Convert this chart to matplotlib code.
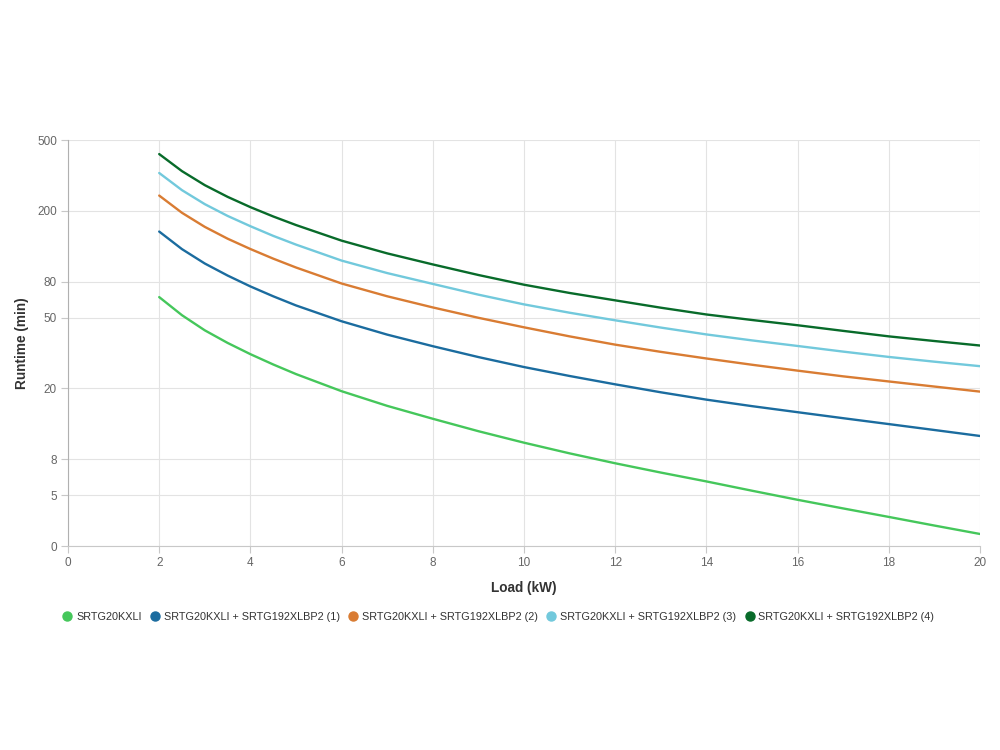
import matplotlib
matplotlib.use("Agg")
import matplotlib.pyplot as plt
from matplotlib.lines import Line2D

plt.rcParams['font.family'] = ['Liberation Sans', 'DejaVu Sans']

load_kw = [2, 2.5, 3, 3.5, 4, 4.5, 5, 6, 7, 8, 9, 10, 11, 12, 13, 14, 15, 16, 17, 18, 19, 20]
series_names = [
    "SRTG20KXLI",
    "SRTG20KXLI + SRTG192XLBP2 (1)",
    "SRTG20KXLI + SRTG192XLBP2 (2)",
    "SRTG20KXLI + SRTG192XLBP2 (3)",
    "SRTG20KXLI + SRTG192XLBP2 (4)",
]
runtime_0 = [65.4, 51.7, 42.5, 36.1, 31.2, 27.3, 24.1, 19.3, 15.96, 13.5, 11.49, 9.9, 8.62,
             7.58, 6.72, 5.99, 5.31, 4.72, 4.22, 3.78, 3.38, 3.03]
runtime_1 = [153, 121.8, 101.1, 86.5, 75.1, 66.1, 58.7, 47.8, 40.2, 34.6, 30.05, 26.4, 23.51,
             21.1, 19.03, 17.3, 15.9, 14.7, 13.6, 12.6, 11.67, 10.8]
runtime_2 = [244, 195.1, 162.6, 139.5, 122, 107.7, 96.0, 78, 66.1, 57.2, 50.0, 44.2, 39.3,
             35.3, 32.15, 29.5, 27.2, 25.2, 23.4, 21.9, 20.5, 19.2]
runtime_3 = [327, 261.7, 218.3, 187.4, 164, 144.7, 129.2, 105, 89.3, 77.6, 67.5, 59.5, 53.4,
             48.4, 44.05, 40.3, 37.3, 34.7, 32.25, 30.1, 28.3, 26.7]
runtime_4 = [418, 334.9, 279.3, 240.0, 210, 186.1, 166.5, 136, 115.3, 99.9, 87.1, 76.8, 69.0,
             62.7, 57.0, 52.2, 48.6, 45.4, 42.2, 39.3, 37.0, 34.9]
colors = ["#45c75b", "#1b6c9f", "#d97c33", "#72c9dc", "#086b2a"]

y_tick_values = [2.58, 5, 8, 20, 50, 80, 200, 500]
y_tick_labels = ["0", "5", "8", "20", "50", "80", "200", "500"]
x_ticks = list(range(0, 21, 2))

fig = plt.figure(figsize=(10, 7.5), dpi=100)
ax = fig.add_axes([0.068, 0.2715, 0.912, 0.5415])

all_series = [runtime_0, runtime_1, runtime_2, runtime_3, runtime_4]
for name, vals, c in zip(series_names, all_series, colors):
    ax.plot(load_kw, vals, color=c, lw=1.7, label=name,
            solid_capstyle='round', solid_joinstyle='round')

ax.set_yscale('log')
ax.set_ylim(2.58, 500)
ax.set_xlim(0, 20)
ax.yaxis.set_major_locator(matplotlib.ticker.FixedLocator(y_tick_values))
ax.yaxis.set_minor_locator(matplotlib.ticker.NullLocator())
ax.set_yticklabels(y_tick_labels)
ax.set_xticks(x_ticks)
ax.set_xticklabels([str(v) for v in x_ticks])

ax.grid(True, color="#e3e3e3", lw=0.8)
ax.set_axisbelow(True)
for s in ['top', 'right']:
    ax.spines[s].set_visible(False)
ax.spines['left'].set_color("#b0b0b0")
ax.spines['bottom'].set_color("#c8c8c8")
ax.tick_params(axis='both', colors="#c8c8c8", labelcolor="#666666",
               labelsize=8.5, length=5, width=0.8)
ax.tick_params(axis='x', pad=3)
ax.tick_params(axis='y', pad=3)

ax.set_ylabel("Runtime (min)", fontsize=9.8, fontweight='bold', color="#333333", labelpad=6)
ax.set_xlabel("Load (kW)", fontsize=9.8, fontweight='bold', color="#333333", labelpad=8)

handles = [Line2D([], [], marker='o', ls='none', markersize=6.5,
                  markerfacecolor=c, markeredgecolor=c) for c in colors]
fig.legend(handles, series_names, loc='center', bbox_to_anchor=(0.498, 0.177),
           ncol=5, frameon=False, fontsize=7.8, labelcolor="#333333",
           handletextpad=0.3, columnspacing=0.75, handlelength=1.0)

fig.savefig("out.png", dpi=100)
